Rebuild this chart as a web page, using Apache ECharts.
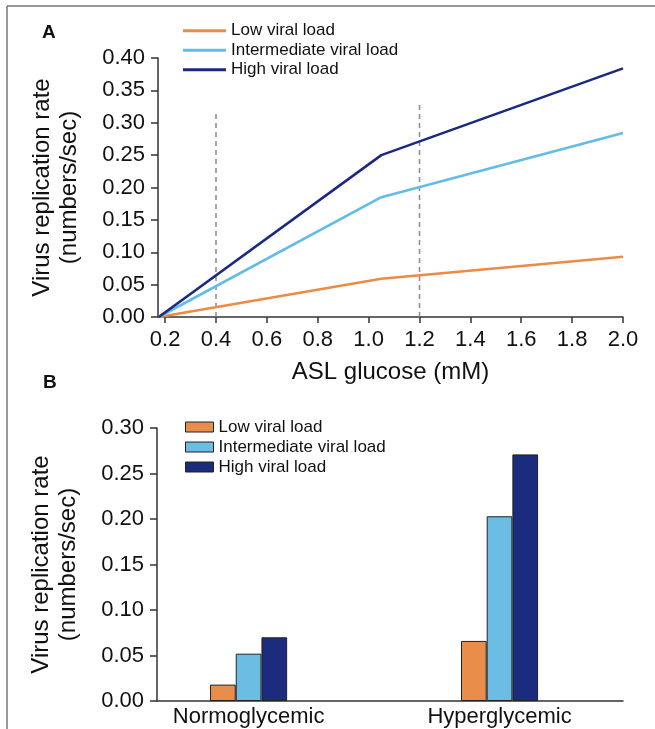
<!DOCTYPE html>
<html>
<head>
<meta charset="utf-8">
<script src="https://cdn.jsdelivr.net/npm/echarts@6/dist/echarts.min.js"></script>
<style>html,body{margin:0;padding:0;background:#fff;}#c{width:655px;height:729px;}</style>
</head>
<body>
<div id="c"></div>
<script>
// ---- Panel A data ----
const xTicksA = [0.2, 0.4, 0.6, 0.8, 1.0, 1.2, 1.4, 1.6, 1.8, 2.0];
const glucose = [0.175, 1.05, 2.0];
const lowA = [0, 0.059, 0.093];
const interA = [0, 0.185, 0.284];
const highA = [0, 0.250, 0.384];
const dashX = [0.4, 1.2];
const dashTop = [0.316, 0.329];
// ---- Panel B data ----
const groupsB = ['Normoglycemic', 'Hyperglycemic'];
const groupPos = [1, 2];
const lowB = [0.018, 0.066];
const interB = [0.052, 0.203];
const highB = [0.070, 0.271];
const seriesNames = ['Low viral load', 'Intermediate viral load', 'High viral load'];

const cLow = '#EC8B45', cInt = '#63BCE6', cHigh = '#1B2A80';
const barLow = '#E88E4A', barInt = '#6BBDE3', barHigh = '#1B2B7D';
const axisCol = '#333';
const font = 'Liberation Sans, Arial, sans-serif';

const chart = echarts.init(document.getElementById('c'), null, {renderer: 'canvas'});

function pts(xs, ys) { return xs.map((x, i) => [x, ys[i]]); }

const series = [];
dashX.forEach((x, i) => {
  series.push({
    type: 'line', xAxisIndex: 0, yAxisIndex: 0, silent: true, symbol: 'none',
    data: [[x, 0], [x, dashTop[i]]],
    lineStyle: {color: '#8a8a8a', width: 1.5, type: [5, 4]}, z: 1
  });
});
[[lowA, cLow], [interA, cInt], [highA, cHigh]].forEach(([ys, col], i) => {
  series.push({
    name: seriesNames[i], type: 'line', xAxisIndex: 0, yAxisIndex: 0,
    symbol: 'none', data: pts(glucose, ys),
    lineStyle: {color: col, width: 2.6}, itemStyle: {color: col}, z: 3
  });
});
[[lowB, barLow], [interB, barInt], [highB, barHigh]].forEach(([ys, col], i) => {
  series.push({
    name: seriesNames[i] + ' ', type: 'bar', xAxisIndex: 1, yAxisIndex: 1,
    data: pts(groupPos, ys), barWidth: 25.7, barGap: '0%',
    itemStyle: {color: col, borderColor: '#222', borderWidth: 1}
  });
});

const yAxisCommon = {
  type: 'value', min: 0, interval: 0.05,
  name: 'Virus replication rate\n(numbers/sec)', nameLocation: 'middle', nameGap: 75,
  nameRotate: 90,
  nameTextStyle: {fontFamily: font, fontSize: 24, color: '#111', lineHeight: 27},
  axisLine: {show: true, lineStyle: {color: axisCol, width: 1.5}},
  axisTick: {show: true, length: 7, lineStyle: {color: axisCol, width: 1.5}},
  axisLabel: {fontFamily: font, fontSize: 22, color: '#111', margin: 13,
    formatter: v => v.toFixed(2)},
  splitLine: {show: false}
};

chart.setOption({
  animation: false,
  backgroundColor: '#fff',
  grid: [
    {left: 158, right: 32, top: 58, bottom: 412, outerBoundsMode: 'none'},
    {left: 157, right: 32, top: 428, bottom: 28, outerBoundsMode: 'none'}
  ],
  xAxis: [
    {
      type: 'value', gridIndex: 0, min: 0.172, max: 2.0,
      name: 'ASL glucose (mM)', nameLocation: 'middle', nameGap: 43,
      nameTextStyle: {fontFamily: font, fontSize: 24, color: '#111'},
      axisLine: {show: true, lineStyle: {color: axisCol, width: 1.5}},
      axisTick: {show: true, length: 6, customValues: xTicksA, lineStyle: {color: axisCol, width: 1.5}},
      axisLabel: {fontFamily: font, fontSize: 22, color: '#111', margin: 12,
        customValues: xTicksA, formatter: v => v.toFixed(1)},
      splitLine: {show: false}
    },
    {
      type: 'value', gridIndex: 1, min: 0.635, max: 2.492,
      axisLine: {show: true, lineStyle: {color: axisCol, width: 1.5}},
      axisTick: {show: false},
      axisLabel: {fontFamily: font, fontSize: 22, color: '#111', margin: 5,
        customValues: groupPos, formatter: v => groupsB[Math.round(v) - 1]},
      splitLine: {show: false}
    }
  ],
  yAxis: [
    Object.assign({}, yAxisCommon, {gridIndex: 0, max: 0.40}),
    Object.assign({}, yAxisCommon, {gridIndex: 1, max: 0.30})
  ],
  legend: [
    {
      orient: 'vertical', left: 183, top: 21, itemGap: 0, padding: 0,
      itemWidth: 43, itemHeight: 3, icon: 'rect',
      data: seriesNames.map((n, i) => ({name: n, itemStyle: {color: [cLow, cInt, cHigh][i]}})),
      textStyle: {fontFamily: font, fontSize: 17, color: '#111', lineHeight: 19.5}
    },
    {
      orient: 'vertical', left: 185, top: 417, itemGap: 0, padding: 0,
      itemWidth: 28, itemHeight: 10, icon: 'rect',
      data: seriesNames.map((n, i) => ({name: n + ' ',
        itemStyle: {color: [barLow, barInt, barHigh][i], borderColor: '#222', borderWidth: 1}})),
      textStyle: {fontFamily: font, fontSize: 17, color: '#111', lineHeight: 20}
    }
  ],
  graphic: [
    {type: 'line', shape: {x1: 7, y1: 6, x2: 655, y2: 6}, style: {stroke: '#777', lineWidth: 1.5}},
    {type: 'line', shape: {x1: 7, y1: 6, x2: 7, y2: 729}, style: {stroke: '#777', lineWidth: 1.5}},
    {type: 'text', left: 42, top: 23, style: {text: 'A', font: 'bold 19px ' + font, fill: '#111'}},
    {type: 'text', left: 43, top: 373, style: {text: 'B', font: 'bold 19px ' + font, fill: '#111'}}
  ],
  series: series
});
</script>
</body>
</html>
